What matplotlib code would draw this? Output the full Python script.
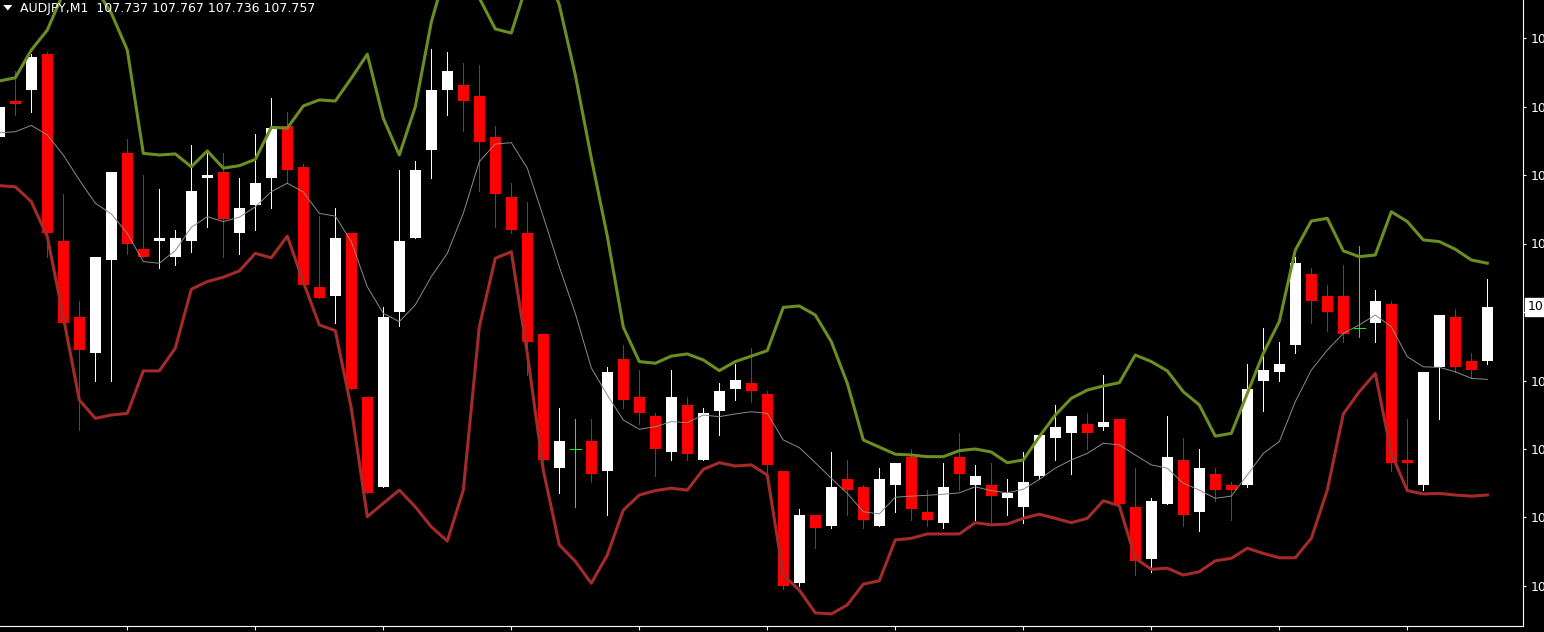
import matplotlib
matplotlib.use("Agg")
import matplotlib.pyplot as plt
import numpy as np
from matplotlib.patches import Polygon
from matplotlib.transforms import blended_transform_factory

# ---------------- data (AUDJPY, M1) ----------------
title_text = "AUDJPY,M1  107.737 107.767 107.736 107.757"

opens = [107.819, 107.832, 107.836, 107.849, 107.781, 107.753, 107.740, 107.774, 107.813, 107.778,
         107.781, 107.775, 107.781, 107.804, 107.806, 107.784, 107.794, 107.804, 107.823, 107.808,
         107.764, 107.761, 107.784, 107.724, 107.691, 107.755, 107.782, 107.814, 107.836, 107.838,
         107.834, 107.819, 107.797, 107.784, 107.747, 107.698, 107.705, 107.708, 107.697, 107.738,
         107.724, 107.717, 107.704, 107.721, 107.701, 107.719, 107.727, 107.729, 107.725, 107.697,
         107.656, 107.681, 107.677, 107.694, 107.691, 107.677, 107.692, 107.702, 107.682, 107.678,
         107.702, 107.692, 107.692, 107.687, 107.684, 107.695, 107.709, 107.711, 107.714, 107.713,
         107.716, 107.684, 107.665, 107.685, 107.701, 107.682, 107.696, 107.692, 107.692, 107.730,
         107.733, 107.743, 107.769, 107.761, 107.761, 107.749, 107.751, 107.758, 107.701, 107.692,
         107.735, 107.753, 107.737, 107.737]
highs = [107.831, 107.843, 107.849, 107.850, 107.798, 107.759, 107.775, 107.806, 107.818, 107.805,
         107.800, 107.785, 107.816, 107.814, 107.813, 107.804, 107.820, 107.833, 107.828, 107.809,
         107.790, 107.793, 107.784, 107.724, 107.757, 107.807, 107.810, 107.851, 107.850, 107.846,
         107.845, 107.823, 107.802, 107.795, 107.747, 107.720, 107.716, 107.716, 107.735, 107.743,
         107.734, 107.718, 107.734, 107.724, 107.720, 107.729, 107.736, 107.742, 107.726, 107.697,
         107.683, 107.681, 107.704, 107.701, 107.692, 107.698, 107.700, 107.705, 107.690, 107.700,
         107.711, 107.699, 107.700, 107.694, 107.704, 107.710, 107.721, 107.717, 107.718, 107.732,
         107.716, 107.698, 107.687, 107.717, 107.709, 107.705, 107.698, 107.693, 107.736, 107.749,
         107.744, 107.775, 107.771, 107.765, 107.772, 107.779, 107.763, 107.759, 107.716, 107.733,
         107.754, 107.756, 107.740, 107.767]
lows = [107.818, 107.827, 107.828, 107.775, 107.751, 107.712, 107.730, 107.730, 107.776, 107.775,
        107.771, 107.772, 107.777, 107.786, 107.775, 107.776, 107.785, 107.793, 107.802, 107.765,
        107.760, 107.751, 107.727, 107.689, 107.691, 107.750, 107.782, 107.804, 107.827, 107.821,
        107.799, 107.786, 107.784, 107.732, 107.701, 107.689, 107.684, 107.693, 107.681, 107.720,
        107.714, 107.695, 107.701, 107.701, 107.701, 107.710, 107.723, 107.722, 107.695, 107.654,
        107.655, 107.669, 107.676, 107.681, 107.676, 107.677, 107.682, 107.679, 107.677, 107.676,
        107.690, 107.679, 107.678, 107.681, 107.678, 107.694, 107.701, 107.696, 107.705, 107.712,
        107.685, 107.659, 107.660, 107.685, 107.677, 107.675, 107.686, 107.679, 107.691, 107.719,
        107.730, 107.740, 107.751, 107.748, 107.744, 107.746, 107.744, 107.697, 107.690, 107.690,
        107.716, 107.733, 107.731, 107.736]
closes = [107.830, 107.831, 107.848, 107.784, 107.751, 107.741, 107.775, 107.806, 107.780, 107.775,
          107.782, 107.782, 107.799, 107.805, 107.789, 107.793, 107.802, 107.822, 107.807, 107.765,
          107.760, 107.782, 107.727, 107.689, 107.753, 107.781, 107.807, 107.836, 107.843, 107.832,
          107.817, 107.798, 107.785, 107.744, 107.701, 107.708, 107.705, 107.696, 107.733, 107.723,
          107.718, 107.705, 107.724, 107.703, 107.718, 107.726, 107.730, 107.726, 107.699, 107.655,
          107.681, 107.676, 107.691, 107.690, 107.679, 107.694, 107.700, 107.683, 107.679, 107.691,
          107.696, 107.695, 107.688, 107.689, 107.693, 107.710, 107.713, 107.717, 107.711, 107.715,
          107.685, 107.664, 107.686, 107.702, 107.681, 107.698, 107.690, 107.690, 107.727, 107.734,
          107.736, 107.773, 107.759, 107.755, 107.747, 107.749, 107.759, 107.700, 107.700, 107.733,
          107.754, 107.735, 107.734, 107.757]

bb_upper = [107.8393, 107.8405, 107.8506, 107.8579, 107.8714, 107.8835, 107.8733, 107.8641, 107.8506, 107.8129,
            107.8123, 107.8127, 107.8080, 107.8138, 107.8075, 107.8084, 107.8107, 107.8224, 107.8221, 107.8302,
            107.8324, 107.8320, 107.8403, 107.8491, 107.8257, 107.8123, 107.8299, 107.8608, 107.8813, 107.8919,
            107.8696, 107.8583, 107.8568, 107.8751, 107.8824, 107.8671, 107.8415, 107.8112, 107.7827, 107.7495,
            107.7369, 107.7363, 107.7389, 107.7397, 107.7375, 107.7336, 107.7369, 107.7389, 107.7409, 107.7567,
            107.7572, 107.7539, 107.7442, 107.7290, 107.7083, 107.7057, 107.7031, 107.7028, 107.7022, 107.7022,
            107.7044, 107.7050, 107.7039, 107.7000, 107.7010, 107.7095, 107.7174, 107.7235, 107.7265, 107.7280,
            107.7292, 107.7393, 107.7369, 107.7335, 107.7259, 107.7211, 107.7097, 107.7107, 107.7253, 107.7399,
            107.7515, 107.7776, 107.7882, 107.7892, 107.7773, 107.7752, 107.7758, 107.7916, 107.7880, 107.7813,
            107.7807, 107.7779, 107.7740, 107.7728]
bb_middle = [107.8204, 107.8208, 107.8231, 107.8196, 107.8123, 107.8032, 107.7947, 107.7908, 107.7837, 107.7734,
             107.7728, 107.7774, 107.7859, 107.7898, 107.7880, 107.7896, 107.7934, 107.7989, 107.8020, 107.7988,
             107.7910, 107.7900, 107.7807, 107.7642, 107.7545, 107.7515, 107.7576, 107.7679, 107.7764, 107.7910,
             107.8099, 107.8163, 107.8168, 107.8075, 107.7898, 107.7715, 107.7545, 107.7346, 107.7247, 107.7156,
             107.7122, 107.7131, 107.7150, 107.7146, 107.7174, 107.7168, 107.7178, 107.7186, 107.7180, 107.7083,
             107.7055, 107.7000, 107.6943, 107.6888, 107.6821, 107.6813, 107.6874, 107.6878, 107.6881, 107.6885,
             107.6890, 107.6912, 107.6898, 107.6890, 107.6903, 107.6939, 107.6980, 107.7010, 107.7034, 107.7071,
             107.7065, 107.7028, 107.6992, 107.6980, 107.6925, 107.6900, 107.6870, 107.6878, 107.6955, 107.7034,
             107.7077, 107.7223, 107.7338, 107.7411, 107.7472, 107.7503, 107.7539, 107.7496, 107.7387, 107.7350,
             107.7348, 107.7332, 107.7308, 107.7304]
bb_lower = [107.8011, 107.8007, 107.7953, 107.7825, 107.7533, 107.7229, 107.7162, 107.7174, 107.7180, 107.7335,
            107.7335, 107.7418, 107.7633, 107.7661, 107.7677, 107.7700, 107.7764, 107.7748, 107.7827, 107.7660,
            107.7503, 107.7482, 107.7199, 107.6803, 107.6852, 107.6900, 107.6839, 107.6766, 107.6714, 107.6900,
            107.7496, 107.7746, 107.7770, 107.7399, 107.6973, 107.6700, 107.6640, 107.6560, 107.6663, 107.6827,
            107.6882, 107.6898, 107.6907, 107.6900, 107.6976, 107.7000, 107.6988, 107.6992, 107.6955, 107.6590,
            107.6535, 107.6452, 107.6448, 107.6481, 107.6557, 107.6569, 107.6718, 107.6724, 107.6740, 107.6740,
            107.6740, 107.6781, 107.6773, 107.6776, 107.6797, 107.6812, 107.6797, 107.6781, 107.6797, 107.6861,
            107.6843, 107.6651, 107.6611, 107.6615, 107.6590, 107.6602, 107.6642, 107.6651, 107.6688, 107.6669,
            107.6653, 107.6653, 107.6724, 107.6900, 107.7178, 107.7259, 107.7326, 107.7034, 107.6898, 107.6886,
            107.6888, 107.6882, 107.6878, 107.6882]

price_ticks = [107.655, 107.680, 107.705, 107.730, 107.755, 107.780, 107.805, 107.830, 107.855]
last_price = 107.757

# ---------------- figure ----------------
W, H = 1544, 632
fig = plt.figure(figsize=(W / 100, H / 100), dpi=100, facecolor="black")
plot_right_px, plot_bottom_px = 1523, 626
ax = fig.add_axes([0, (H - plot_bottom_px) / H, plot_right_px / W, plot_bottom_px / H])
ax.set_facecolor("black")

O = np.array(opens); Hh = np.array(highs); L = np.array(lows); C = np.array(closes)
n = len(O)
x = np.arange(n)
bar_w = 11 / 16

up = C > O
dn = C < O
dj = C == O

wick_colors = np.where(up, "#ffffff", np.where(dn, "#ff0000", "#00ff00"))
ax.vlines(x, L, Hh, colors=wick_colors, linewidth=0.72, antialiased=False, zorder=1)
ax.bar(x[up], (C - O)[up], bottom=O[up], width=bar_w, color="#ffffff",
       linewidth=0, antialiased=False, zorder=2)
ax.bar(x[dn], (O - C)[dn], bottom=C[dn], width=bar_w, color="#ff0000",
       linewidth=0, antialiased=False, zorder=2)
ax.hlines(O[dj], x[dj] - bar_w / 2, x[dj] + bar_w / 2, colors="#00ff00",
          linewidth=0.72, antialiased=False, zorder=2)

ax.plot(x, bb_upper, color="#6b8e23", lw=2.2, zorder=4, solid_joinstyle="round")
ax.plot(x, bb_lower, color="#a52a2a", lw=2.2, zorder=4, solid_joinstyle="round")
ax.plot(x, bb_middle, color="#8c8c8c", lw=0.7, zorder=4)

# pixel mapping: bar i centre at (16*i - 0.7) px ; price scale 2740 px per unit
ax.set_xlim(0.7 / 16, (plot_right_px + 0.7) / 16)
ytop = 107.755 + 312 / 2740.0
ybot = 107.755 - (plot_bottom_px - 312) / 2740.0
ax.set_ylim(ybot, ytop)

ax.yaxis.tick_right()
ax.set_yticks(price_ticks)
ax.set_yticklabels([f"{v:.3f}" for v in price_ticks])
ax.set_xticks(np.arange(8, n, 8))
ax.set_xticklabels([])
ax.tick_params(axis="y", colors="white", length=2.2, width=0.8, pad=3.6, labelsize=9)
ax.tick_params(axis="x", colors="white", length=2.8, width=0.8, labelbottom=False)
for s in ("top", "left"):
    ax.spines[s].set_visible(False)
for s in ("right", "bottom"):
    ax.spines[s].set_color("white")
    ax.spines[s].set_linewidth(0.8)

# current price label
trans = blended_transform_factory(ax.transAxes, ax.transData)
ax.text(1527.5 / plot_right_px, last_price, f"{last_price:.3f}", transform=trans,
        color="black", fontsize=9, va="center", ha="left", zorder=10, clip_on=False,
        bbox=dict(boxstyle="square,pad=0.2", fc="white", ec="white"))

# title
fig.text(20 / W, 1 - 12.3 / H, title_text, color="white", fontsize=9,
         va="baseline", ha="left", family="DejaVu Sans")
tri_px = [(3.3, 5.0), (12.3, 5.0), (7.8, 10.5)]
fig.patches.append(Polygon([(px / W, 1 - py / H) for px, py in tri_px], closed=True,
                           transform=fig.transFigure, fc="white", ec="none"))

fig.savefig("out.png", dpi=100, facecolor="black")
